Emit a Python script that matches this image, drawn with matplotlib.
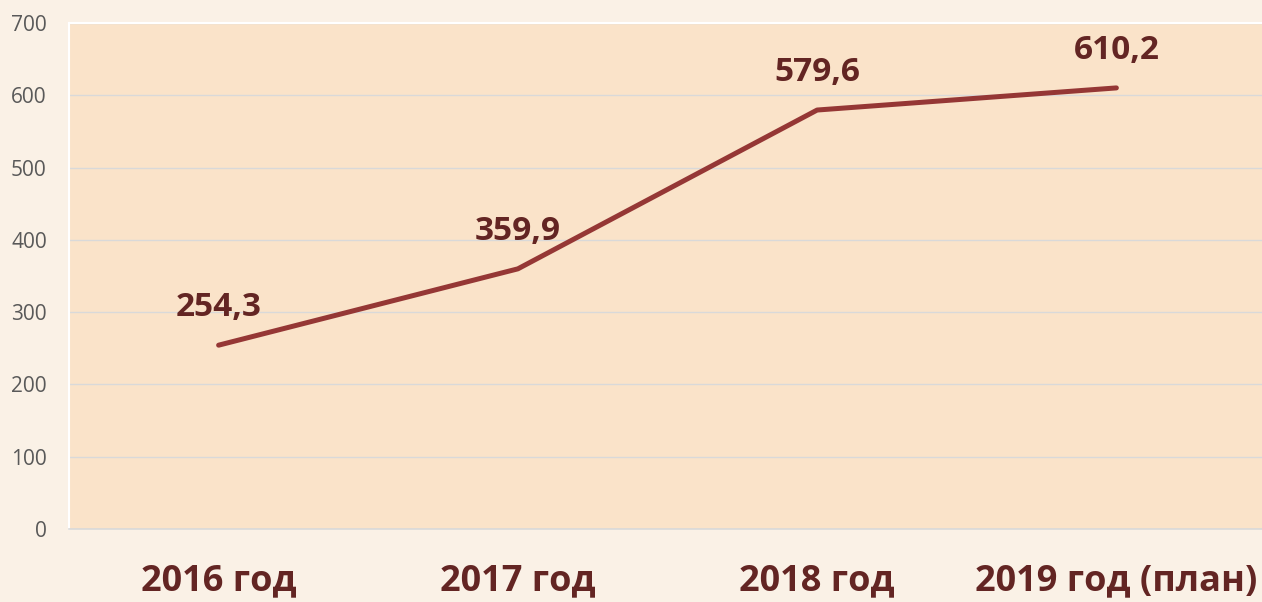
import matplotlib.pyplot as plt

# data
years = ["2016 год", "2017 год", "2018 год", "2019 год (план)"]
values = [254.3, 359.9, 579.6, 610.2]
value_labels = ["254,3", "359,9", "579,6", "610,2"]
yticks = [0, 100, 200, 300, 400, 500, 600, 700]

plt.rcParams["font.family"] = ["Open Sans", "DejaVu Sans"]

fig = plt.figure(figsize=(12.62, 6.02), dpi=100, facecolor="#FAF1E6")
ax = fig.add_axes([69 / 1262, 1 - 529 / 602, 1197 / 1262, 506 / 602])
ax.set_facecolor("#FAE3C9")

x = list(range(len(years)))
ax.plot(x, values, color="#953735", linewidth=3.6, solid_capstyle="round", zorder=3)

for xi, v, lab in zip(x, values, value_labels):
    ax.annotate(lab, (xi, v), xytext=(0, 27), textcoords="offset points",
                ha="center", va="center", fontsize=24, fontweight="bold",
                color="#632523")

ax.set_xlim(-0.5, 3.5)
ax.set_ylim(0, 700)
ax.set_yticks(yticks)
ax.set_yticklabels([str(t) for t in yticks], fontsize=15, color="#595959")
ax.set_xticks(x)
ax.set_xticklabels(years, fontsize=26, fontweight="bold", color="#632523")
ax.tick_params(axis="y", length=0, pad=16)
ax.tick_params(axis="x", length=0, pad=25)

ax.grid(axis="y", color="#D9D9D9", linewidth=1)
ax.set_axisbelow(True)
for side in ["top", "left", "right"]:
    ax.spines[side].set_color("white")
    ax.spines[side].set_linewidth(1.5)
ax.spines["bottom"].set_color("#D9D9D9")
ax.spines["bottom"].set_linewidth(1.2)

fig.savefig("out.png", dpi=100, facecolor=fig.get_facecolor())
